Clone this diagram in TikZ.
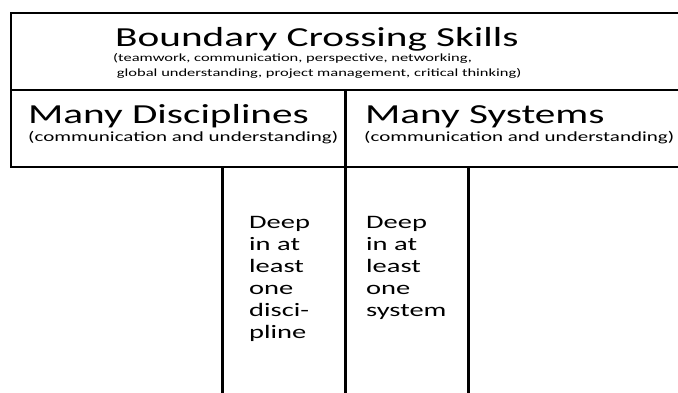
\documentclass[tikz,border=0pt]{standalone}
\usepackage{fontspec}
\setmainfont{Carlito}[FakeStretch=1.5]
\usetikzlibrary{positioning, calc}

\begin{document}
\begin{tikzpicture}[
        x=1pt, y=-1pt,
        grid/.style={draw=black, line width=2.2pt},
        pillar/.style={draw=black, line width=2.8pt},
        head/.style={inner sep=0pt, anchor=base west, font=\fontsize{27.5}{33}\selectfont},
        sub/.style={inner sep=0pt, anchor=base west, font=\fontsize{14}{17}\selectfont},
        deep/.style={inner sep=0pt, anchor=base west, font=\fontsize{19}{22}\selectfont}
    ]
    \useasboundingbox (0,0) rectangle (678,393);

    % --- Frame ---
    \coordinate (tl) at (11,13);
    \coordinate (ml) at (11,90);
    \coordinate (bl) at (11,167);
    \draw[grid] (680,13) -- (tl) -- (bl) -- (680,167);
    \draw[grid] (ml) -- (680,90);
    \draw[grid] (345.5,90) -- (345.5,167);

    % --- Pillars ---
    \draw[pillar] (222.7,167) -- (222.7,395);
    \draw[pillar] (345.7,167) -- (345.7,395);
    \draw[pillar] (468.7,167) -- (468.7,395);

    % --- Nodes ---
    \node[head] (skills) at (115,46.7) {Boundary Crossing Skills};
    \node[sub, font=\fontsize{11}{15}\selectfont] (skilllist) at (113,62)
        {\begin{tabular}[t]{@{}l@{}}
         (teamwork, communication, perspective, networking,\\
         \ global understanding, project management, critical thinking)
         \end{tabular}};

    \node[head] (disc) at (28,124) {Many Disciplines};
    \node[sub] (discnote) at (28,142) {(communication and understanding)};
    \node[head] (sys) at (365,124) {Many Systems};
    \node[sub] (sysnote) at (364,142) {(communication and understanding)};

    \node[deep] (deepdisc) at (249,229)
        {\begin{tabular}[t]{@{}l@{}}Deep\\in at\\least\\one\\disci-\\pline\end{tabular}};
    \node[deep] (deepsys) at (366,229)
        {\begin{tabular}[t]{@{}l@{}}Deep\\in at\\least\\one\\system\end{tabular}};

\end{tikzpicture}
\end{document}
